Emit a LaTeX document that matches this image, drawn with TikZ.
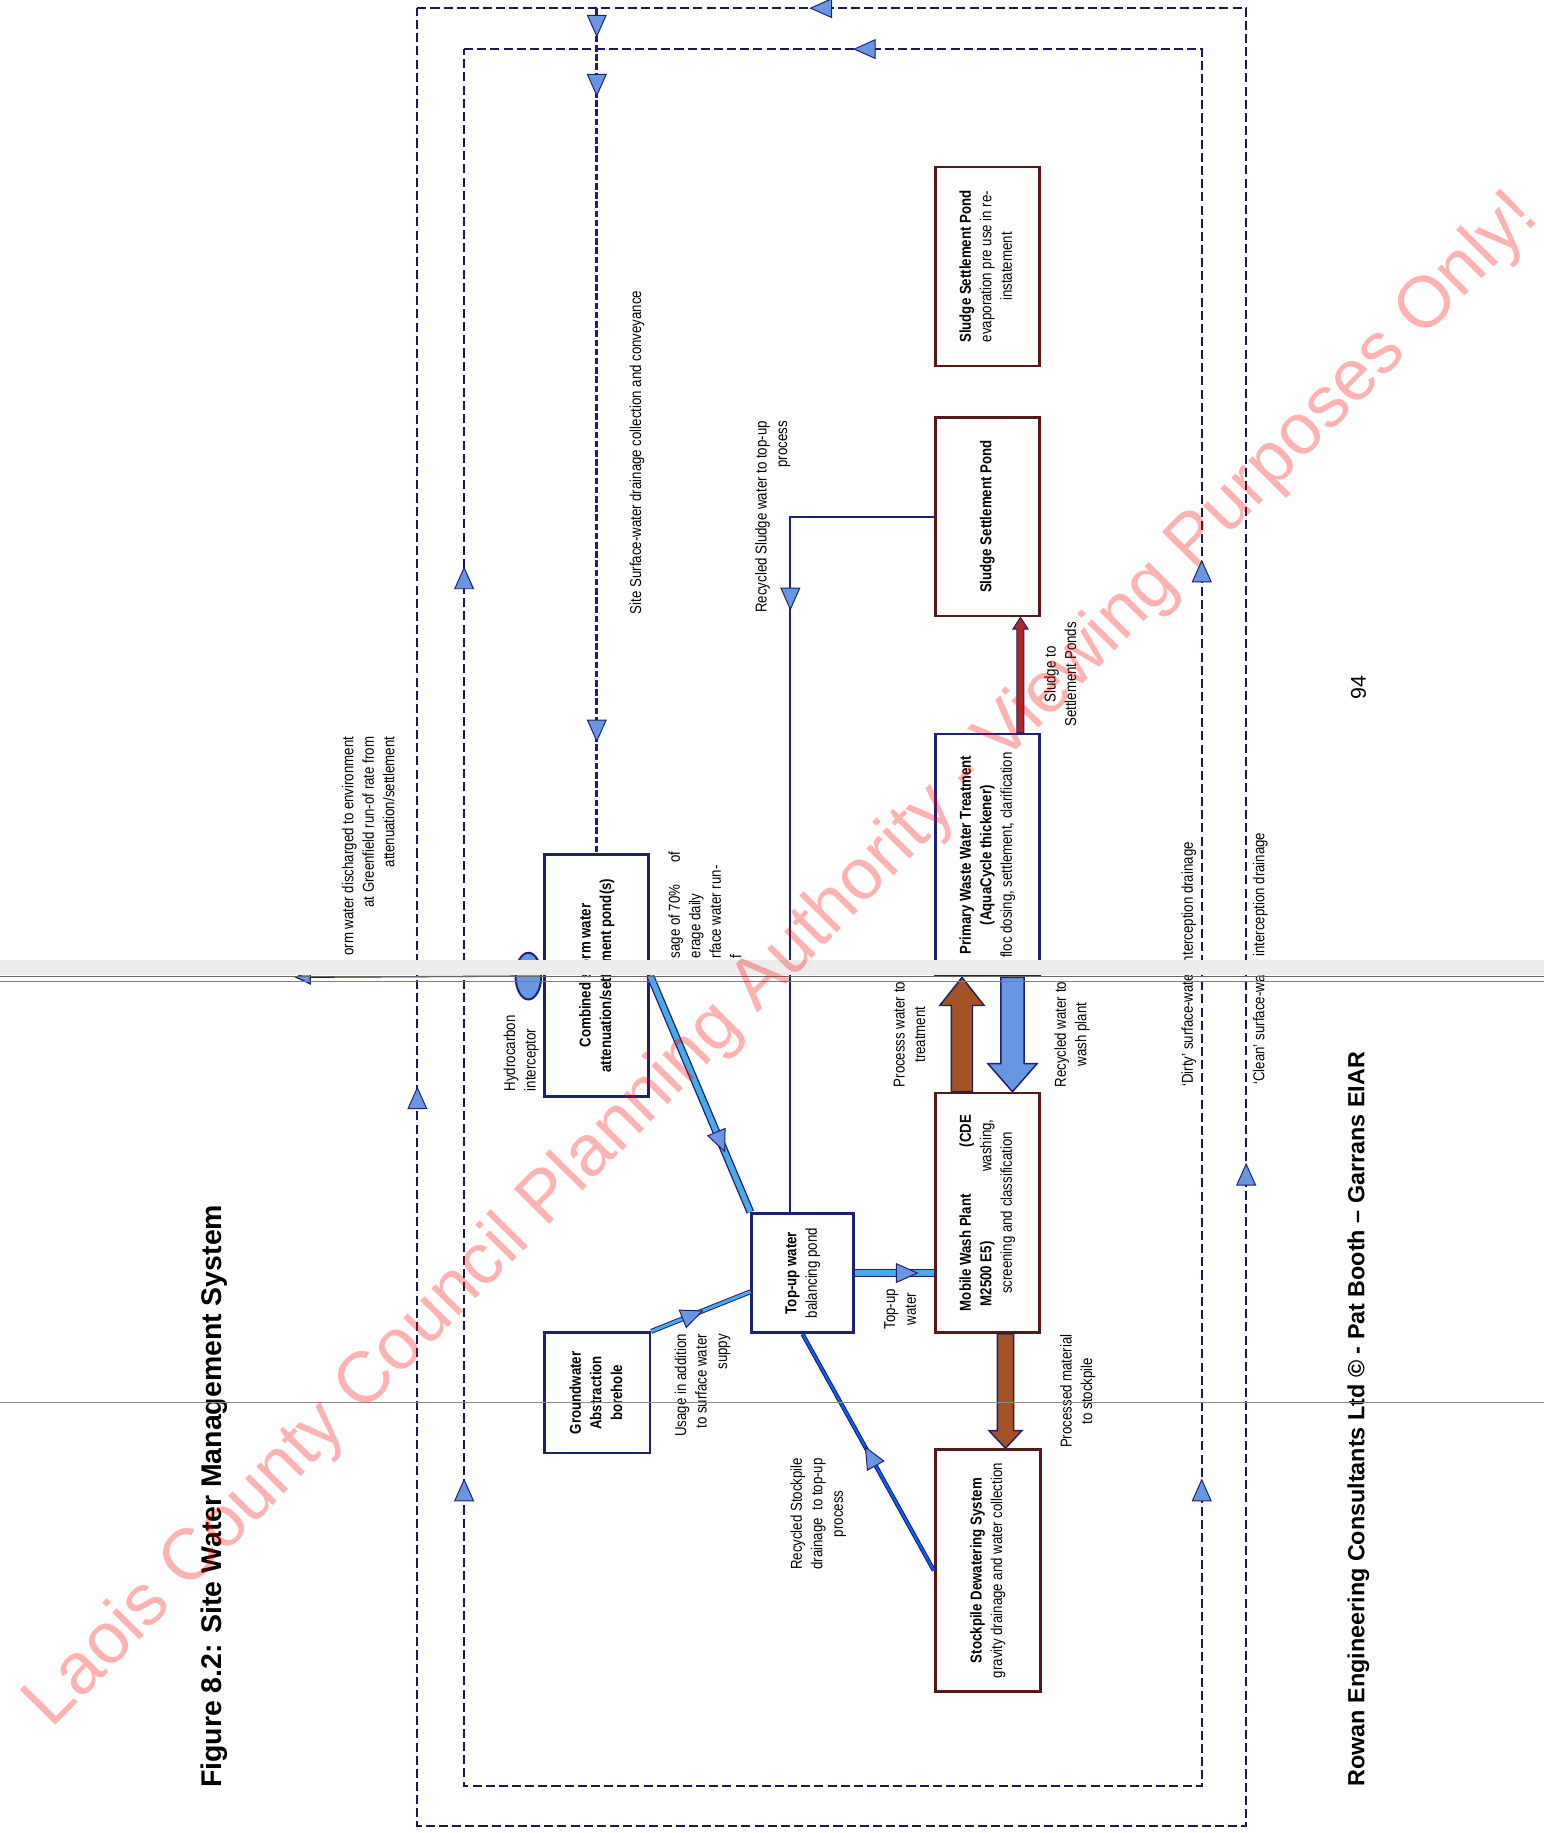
\documentclass[tikz,border=0pt]{standalone}
\usepackage{fontspec}
\usepackage{graphicx}
\setmainfont{Liberation Sans}
\newfontfamily\narrowsf{Liberation Sans}[FakeStretch=0.84]
\usetikzlibrary{calc,shapes.geometric,decorations.markings,arrows.meta}

\definecolor{navy}{RGB}{30,32,112}
\definecolor{dashnavy}{RGB}{26,26,82}
\definecolor{maroon}{RGB}{82,26,24}
\definecolor{cornflower}{RGB}{105,150,226}
\definecolor{skyline}{RGB}{72,170,230}
\definecolor{rust}{RGB}{165,82,36}
\definecolor{sludgered}{RGB}{170,40,40}

% rotated box text (page is landscape turned on its side)
\newcommand{\vlab}[2][c]{\rotatebox{90}{\narrowsf\fontsize{9.6}{12.5}\selectfont\begin{tabular}{@{}#1@{}}#2\end{tabular}}}

\tikzset{
  dashline/.style={draw=dashnavy, line width=1.1pt, dash pattern=on 5.5pt off 2.5pt},
  collect/.style={draw=navy, line width=1.9pt, dash pattern=on 4pt off 1.6pt},
  navybox/.style={draw=navy, line width=1.6pt, fill=white, inner sep=0pt},
  brownbox/.style={draw=maroon, line width=1.6pt, fill=white, inner sep=0pt},
  lbl/.style={font=\narrowsf\fontsize{9.6}{12.5}\selectfont, rotate=90, align=center, inner sep=0pt},
  tri/.style={draw=navy, fill=cornflower, line width=0.6pt, solid, line join=miter},
  flowmark/.style={postaction={decorate, decoration={markings,
      mark=at position #1 with {\draw[tri] (2.4mm,0) -- (-2.1mm,2mm) -- (-2.1mm,-2mm) -- cycle;}}}},
  pipe/.style={draw=navy, line width=0.8pt, double=skyline, double distance=3.2pt},
  thinpipe/.style={draw=navy, line width=0.6pt, double=skyline, double distance=1.8pt},
  drainpipe/.style={draw=navy, line width=0.7pt, double=blue!60!cyan, double distance=1.2pt},
  returnline/.style={draw=navy, line width=1.2pt},
  blockarrow/.style={draw=navy, line width=0.9pt, line join=miter}
}

\begin{document}
\begin{tikzpicture}[x=0.25mm, y=-0.25mm]
\useasboundingbox (0,0) rectangle (1321,1568);

% Heading, footer, page number
\node[rotate=90, font=\bfseries\fontsize{17.3}{20}\selectfont] (title) at (183,1280) {Figure 8.2: Site Water Management System};
\node[rotate=90, font=\bfseries\fontsize{14.2}{17}\selectfont] (footer) at (1162,1214) {Rowan Engineering Consultants Ltd © - Pat Booth – Garrans EIAR};
\node[rotate=90, font=\fontsize{13}{15}\selectfont] (pageno) at (1162,588) {94};

% Drainage loops ('clean' outer, 'dirty' inner)
\coordinate (onw) at (357,7);   \coordinate (one) at (1066,7);
\coordinate (ose) at (1066,1562); \coordinate (osw) at (357,1562);
\coordinate (inw) at (397,42);  \coordinate (ine) at (1028,42);
\coordinate (ise) at (1028,1528); \coordinate (isw) at (397,1528);
\draw[dashline] (onw) -- (one) -- (ose) -- (osw) -- cycle;
\draw[dashline] (inw) -- (ine) -- (ise) -- (isw) -- cycle;
\path[flowmark=0.512] (one) -- (onw);
\path[flowmark=0.456] (ine) -- (inw);
\path[flowmark=0.4] (osw) -- (onw);
\path[flowmark=0.358] (ose) -- (one);
\path[flowmark=0.17, flowmark=0.695] (isw) -- (inw);
\path[flowmark=0.17, flowmark=0.699] (ise) -- (ine);

% Boxes
\node[navybox, minimum width=22.25mm, minimum height=51.75mm] (pond) at (510.5,834.5)
  {\vlab{\textbf{Combined storm water}\\\textbf{attenuation/settlement pond(s)}}};
\node[navybox, minimum width=22.5mm, minimum height=25.75mm] (bore) at (511,1191.5)
  {\vlab{\textbf{Groundwater}\\\textbf{Abstraction}\\\textbf{borehole}}};
\node[navybox, minimum width=21.75mm, minimum height=25.5mm] (topup) at (686.5,1089)
  {\vlab{\textbf{Top-up water}\\balancing pond}};
\node[brownbox, minimum width=22.25mm, minimum height=51.25mm] (wash) at (844.5,1037.5)
  {\vlab{\makebox[42mm]{\textbf{Mobile Wash Plant}\hfill\textbf{(CDE}}\\\makebox[40mm]{\textbf{M2500 E5)}\hfill washing,}\\screening and classification}};
\node[brownbox, minimum width=22.5mm, minimum height=51.75mm] (dewater) at (845,1343.5)
  {\vlab{\textbf{Stockpile Dewatering System}\\gravity drainage and water collection}};
\node[navybox, minimum width=22.25mm, minimum height=51.75mm] (pwwt) at (844.5,731.5)
  {\vlab{\textbf{Primary Waste Water Treatment}\\\textbf{(AquaCycle thickener)}\\floc dosing, settlement, clarification}};
\node[brownbox, minimum width=22.25mm, minimum height=42.5mm] (sludge) at (844.5,442)
  {\vlab{\textbf{Sludge Settlement Pond}}};
\node[brownbox, minimum width=22.25mm, minimum height=42.5mm] (evap) at (844.5,228)
  {\vlab{\textbf{Sludge Settlement Pond}\\evaporation pre use in re-\\instatement}};
\node[ellipse, draw=navy, fill=cornflower, line width=1.2pt, minimum width=5.5mm, minimum height=10mm, inner sep=0pt] (hci) at (452,835) {};

% Surface-water collection to the ponds
\draw[collect] (onw -| pond.north) -- (pond.north);
\path[flowmark=0.02, flowmark=0.09, flowmark=0.854] (onw -| pond.north) -- (pond.north);
\coordinate (outfall) at (252,836);
\draw[navy, line width=0.8pt, -{Triangle[length=3.5mm, width=3.2mm, fill=cornflower]}] (hci.west) -- (outfall);

% Water supply to the top-up pond
\draw[pipe] (pond.east) -- (topup.north west);
\path[flowmark=0.7] (pond.east) -- (topup.north west);
\draw[thinpipe] (bore.north east) -- ([yshift=-4mm]topup.west);
\path[flowmark=0.41] (bore.north east) -- ([yshift=-4mm]topup.west);
\draw[drainpipe] (dewater.west) -- (topup.south);
\path[flowmark=0.48] (dewater.west) -- (topup.south);
\draw[returnline] (sludge.west) -| ([xshift=-2.6mm]topup.north);
\path[flowmark=0.268] (sludge.west) -| ([xshift=-2.6mm]topup.north);
\draw[pipe] (topup.east) -- (topup.east -| wash.west);
\path[flowmark=0.65] (topup.east) -- (topup.east -| wash.west);

% Block arrows round the wash plant
\coordinate (pw0) at ([xshift=-5.4mm]wash.north);
\coordinate (pw1) at ([xshift=-5.4mm]pwwt.south);
\filldraw[blockarrow, fill=rust] ($(pw0)+(-9,0)$) -- ($(pw1)+(-9,24)$) -- ($(pw1)+(-19,24)$) -- (pw1)
  -- ($(pw1)+(19,24)$) -- ($(pw1)+(9,24)$) -- ($(pw0)+(9,0)$) -- cycle;
\coordinate (rw0) at ([xshift=5.4mm]pwwt.south);
\coordinate (rw1) at ([xshift=5.4mm]wash.north);
\filldraw[blockarrow, fill=cornflower] ($(rw0)+(-10,0)$) -- ($(rw1)+(-10,-24)$) -- ($(rw1)+(-21,-24)$) -- (rw1)
  -- ($(rw1)+(21,-24)$) -- ($(rw1)+(10,-24)$) -- ($(rw0)+(10,0)$) -- cycle;
\coordinate (pm0) at ([xshift=3.9mm]wash.south);
\coordinate (pm1) at (pm0 |- dewater.north);
\filldraw[blockarrow, fill=rust] ($(pm0)+(-7,0)$) -- ($(pm1)+(-7,-15)$) -- ($(pm1)+(-14,-15)$) -- (pm1)
  -- ($(pm1)+(14,-15)$) -- ($(pm1)+(7,-15)$) -- ($(pm0)+(7,0)$) -- cycle;
\coordinate (sg0) at ([xshift=7.1mm]pwwt.north);
\coordinate (sg1) at (sg0 |- sludge.south);
\filldraw[blockarrow, line width=0.6pt, fill=sludgered] ($(sg0)+(-3,0)$) -- ($(sg1)+(-3,10)$) -- ($(sg1)+(-6.5,10)$) -- (sg1)
  -- ($(sg1)+(6.5,10)$) -- ($(sg1)+(3,10)$) -- ($(sg0)+(3,0)$) -- cycle;

% Labels
\node[lbl, align=right, anchor=east] (stormtxt) at (315,630) {orm water discharged to environment\\at Greenfield run-of rate from\\attenuation/settlement};
\node[lbl, align=left] (hcitxt) at (446,901) {Hydrocarbon\\interceptor};
\node[lbl] (sitetxt) at (545,387) {Site Surface-water drainage collection and conveyance};
\node[lbl, align=left, anchor=west] (usetxt) at (603,820) {sage of 70\%\hspace{1.4em}of\\erage daily\\rface water run-\\f};
\node[lbl, align=right, anchor=east] (sludgetxt) at (661,360) {Recycled Sludge water to top-up\\process};
\node[lbl, align=right, anchor=east] (addtxt) at (601,1141) {Usage in addition\\to surface water\\suppy};
\node[lbl] (topuptxt) at (770,1120) {Top-up\\water};
\node[lbl] (stocktxt) at (700,1295) {Recycled Stockpile\\drainage\ \ to top-up\\process};
\node[lbl] (proctxt) at (778,885) {Processs water to\\treatment};
\node[lbl] (recyctxt) at (917,885) {Recycled water to\\wash plant};
\node[lbl] (sludgeto) at (907,577) {Sludge to\\Settlement Ponds};
\node[lbl] (pmtxt) at (922,1190) {Processed material\\to stockpile};
\node[lbl] (dirtytxt) at (1017,825) {‘Dirty’ surface-water interception drainage};
\node[lbl] (cleantxt) at (1078,820) {‘Clean’ surface-water interception drainage};

% Scan join across the page
\fill[gray!14] (0,821) rectangle (1321,834);
\draw[black!60, line width=0.8pt] (0,835.5) -- (1321,835.5);
\draw[black!50, line width=0.6pt] (0,839.5) -- (1321,839.5);
\draw[black!45, line width=0.4pt] (0,1200) -- (1321,1200);

% Watermark
\node[rotate=45.4, text=red, opacity=0.3, font=\fontsize{44}{44}\selectfont] (stamp) at (670,822)
  {Laois County Council Planning Authority - Viewing Purposes Only!};
\end{tikzpicture}
\end{document}
